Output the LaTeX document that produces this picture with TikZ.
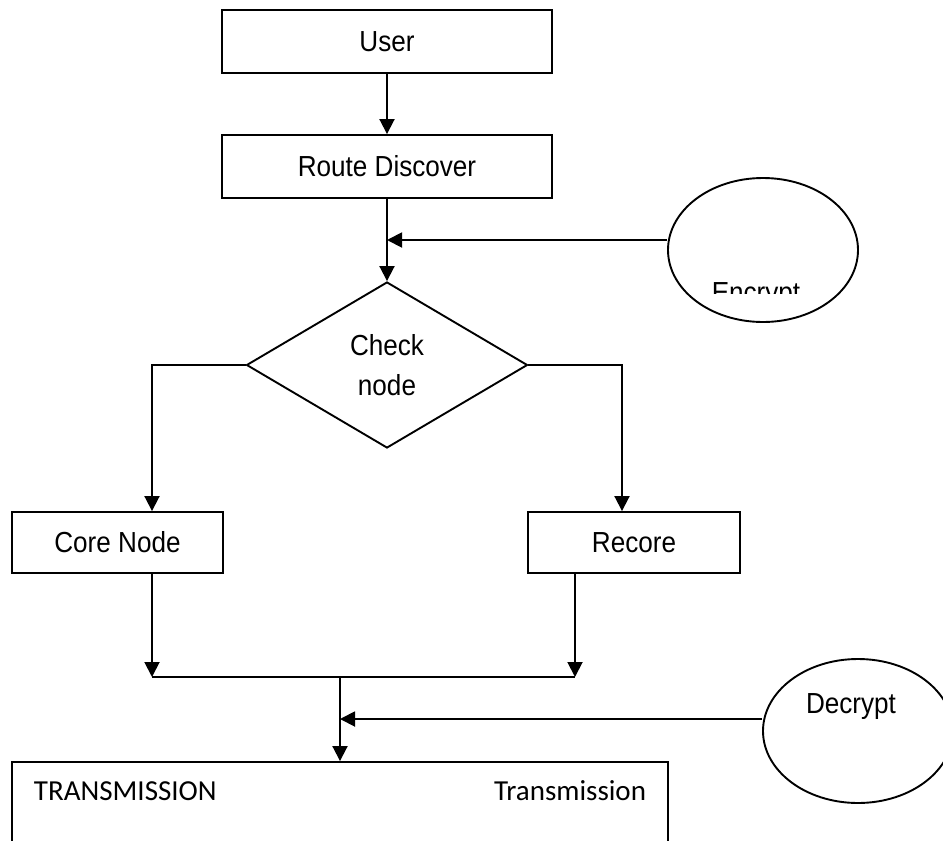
\documentclass[tikz,border=0pt]{standalone}
\usepackage{fontspec}
\setmainfont{Liberation Sans}[FakeStretch=0.9]
\newfontfamily\calib{Carlito}
\usetikzlibrary{arrows.meta,shapes.geometric}

\tikzset{
  base/.style={line width=1.9pt, font=\fontsize{29}{34}\selectfont},
  procbox/.style={draw, rectangle, inner sep=0pt},
  decision/.style={draw, diamond, inner sep=0pt, align=center,
    font=\fontsize{29}{40}\selectfont},
  keyoval/.style={draw, ellipse, minimum width=190pt, minimum height=144pt, inner sep=0pt},
  arr/.style={-{Triangle[length=15pt,width=15pt]}},
  plain/.style={-},
}

\begin{document}
\begin{tikzpicture}[x=1pt, y=-1pt, base]
  \useasboundingbox (0,0) rectangle (943,841);
  \clip (0,0) rectangle (943,841);
  \fill[white] (0,0) rectangle (943,841);

  % main column
  \node[procbox, minimum width=330pt, minimum height=63pt] (user) at (387,41.5) {User};
  \node[procbox, minimum width=330pt, minimum height=63pt] (route) at (387,166.5) {Route Discover};
  \node[decision, minimum width=281pt, minimum height=166pt] (check) at (387,365) {Check\\node};

  % branches
  \node[procbox, minimum width=211pt, minimum height=61pt] (core) at (117.5,542.5) {Core Node};
  \node[procbox, minimum width=212pt, minimum height=61pt] (recore) at (634,542.5) {Recore};

  % transmission box (runs past the lower edge)
  \node[procbox, minimum width=656pt, minimum height=100pt] (trans) at (340,812) {};
  \node[anchor=base west, inner sep=0pt, font=\calib\fontsize{29}{34}\selectfont] (transL) at (33,800) {TRANSMISSION};
  \node[anchor=base east, inner sep=0pt, font=\calib\fontsize{29}{34}\selectfont] (transR) at (647,800) {Transmission};

  % key ovals
  \node[keyoval] (enc) at (763,250) {};
  \begin{scope}
    \clip (690,270) rectangle (840,293);
    \node[anchor=base, inner sep=0pt] (enctext) at (756,302.5) {Encrypt};
  \end{scope}
  \node[keyoval] (dec) at (858,731) {};
  \node[anchor=base, inner sep=0pt] (dectext) at (851,713) {Decrypt};

  % junction points
  \coordinate (encin) at (387,240);
  \coordinate (lx) at (152,0);
  \coordinate (rx) at (622,0);
  \coordinate (rxo) at (575,0);
  \coordinate (jl) at (152,677);
  \coordinate (jr) at (575,677);
  \coordinate (jm) at (340,677);
  \coordinate (decin) at (340,719);

  % connectors
  \draw[arr] (user.south) -- (route.north);
  \draw[arr] (route.south) -- (check.north);
  \draw[arr] (enc.west |- encin) -- (encin);
  \draw[arr] (check.west) -| (lx |- core.north);
  \draw[arr] (check.east) -| (rx |- recore.north);
  \draw[arr] (lx |- core.south) -- (jl);
  \draw[arr] (rxo |- recore.south) -- (jr);
  \draw[plain] (jl) -- (jr);
  \draw[arr] (jm) -- (trans.north);
  \draw[arr] (dec.west |- decin) -- (decin);
\end{tikzpicture}
\end{document}
